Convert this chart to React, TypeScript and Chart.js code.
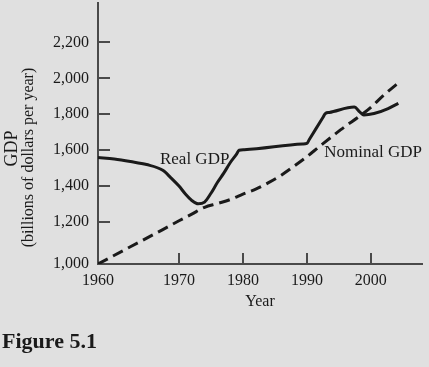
import React, { useEffect, useRef } from 'react';
import { Chart, registerables, LinearScale } from 'chart.js';

Chart.register(...registerables);

// ---------- data ----------
const xTicks = [1960, 1970, 1980, 1990, 2000];
const yTicks = [1000, 1200, 1400, 1600, 1800, 2000, 2200];

const realYears = [1960, 1962, 1964, 1966, 1968, 1969, 1970, 1971, 1972, 1973, 1974, 1975, 1976, 1977, 1978, 1979, 1979.4, 1980.2, 1989.3, 1990, 1990.4, 1992.5, 1992.9, 1993.5, 1997.4, 1998.3, 1998.9, 2000.5, 2002.7, 2004.3];
const realValues = [1560, 1551, 1537, 1520, 1488, 1446, 1400, 1356, 1320, 1301, 1311, 1360, 1420, 1472, 1530, 1578, 1600, 1603, 1635, 1638, 1661, 1782, 1805, 1810, 1840, 1812, 1796, 1804, 1832, 1861];

const nominalYears = [1960, 1964, 1968, 1970, 1972, 1974, 1976, 1978, 1980, 1982, 1984, 1986, 1988, 1990, 1992, 1994, 1996, 1998, 2000, 2002, 2004.4];
const nominalValues = [1000, 1082, 1164, 1207, 1244, 1282, 1303, 1325, 1355, 1383, 1419, 1461, 1511, 1564, 1622, 1678, 1733, 1783, 1839, 1906, 1978];

const seriesNames = ['Real GDP', 'Nominal GDP'];
const seriesLabelYears = [1967.65, 1992.7];
const seriesLabelValues = [1550, 1588];

const xTitle = 'Year';
const yTitleLines = ['GDP', '(billions of dollars per year)'];
const figureCaption = 'Figure 5.1';

// ---------- styling ----------
const SERIF = "'Liberation Serif', 'Times New Roman', 'DejaVu Serif', serif";
const INK = '#1a1a1a';
const AXIS = '#4a4a4a';
const BG = '#e0e0e0';

// A linear scale whose first interval (min..breakAt) takes a fixed share of the axis,
// like the broken origin of the printed figure.
class BrokenLinearScale extends LinearScale {
  static id = 'brokenLinear';
  static defaults = {};
  toDecimal(value: number) {
    const o: any = this.options;
    const b = o.breakAt;
    const f = o.breakFrac;
    if (value <= b) return (f * (value - this.min)) / (b - this.min);
    return f + ((1 - f) * (value - b)) / (this.max - b);
  }
  getPixelForValue(value: any) {
    if (value === null || value === undefined || isNaN(value)) return NaN;
    return this.getPixelForDecimal(this.toDecimal(value));
  }
  getValueForPixel(pixel: number) {
    const o: any = this.options;
    const b = o.breakAt;
    const f = o.breakFrac;
    const d = this.getDecimalForPixel(pixel);
    if (d <= f) return this.min + (d / f) * (b - this.min);
    return b + ((d - f) / (1 - f)) * (this.max - b);
  }
}
Chart.register(BrokenLinearScale as any);

const textPlugin = {
  id: 'figureTexts',
  afterDraw(chart: any) {
    const { ctx, chartArea, scales } = chart;
    const xs = scales.x;
    const ys = scales.y;
    ctx.save();
    ctx.fillStyle = INK;

    // series labels
    ctx.font = `17px ${SERIF}`;
    ctx.textAlign = 'left';
    ctx.textBaseline = 'middle';
    seriesNames.forEach((t, i) => {
      ctx.fillText(t, xs.getPixelForValue(seriesLabelYears[i]), ys.getPixelForValue(seriesLabelValues[i]));
    });

    // x title
    ctx.font = `16px ${SERIF}`;
    ctx.textAlign = 'center';
    ctx.fillText(xTitle, (chartArea.left + chartArea.right) / 2, chartArea.bottom + 38);

    // y title (two rotated lines)
    ctx.save();
    ctx.translate(12.5, 148.5);
    ctx.rotate(-Math.PI / 2);
    ctx.font = `18px ${SERIF}`;
    ctx.fillText(yTitleLines[0], 0, 0);
    ctx.restore();
    ctx.save();
    ctx.translate(29, 157.5);
    ctx.rotate(-Math.PI / 2);
    ctx.font = `16px ${SERIF}`;
    ctx.fillText(yTitleLines[1], 0, 0);
    ctx.restore();

    // caption
    ctx.font = `bold 22px ${SERIF}`;
    ctx.textAlign = 'left';
    ctx.textBaseline = 'alphabetic';
    ctx.fillText(figureCaption, 2, 348);
    ctx.restore();
  },
};

export default function App() {
  const ref = useRef<HTMLCanvasElement | null>(null);

  useEffect(() => {
    const canvas = ref.current;
    if (!canvas) return;
    const tickFont = { family: SERIF, size: 16 };
    const chart = new Chart(canvas, {
      type: 'line',
      data: {
        datasets: [
          {
            label: seriesNames[0],
            data: realYears.map((x, i) => ({ x, y: realValues[i] })),
            borderColor: INK,
            borderWidth: 3,
            pointRadius: 0,
            fill: false,
            cubicInterpolationMode: 'monotone',
          },
          {
            label: seriesNames[1],
            data: nominalYears.map((x, i) => ({ x, y: nominalValues[i] })),
            borderColor: INK,
            borderWidth: 3,
            borderDash: [11, 6],
            pointRadius: 0,
            fill: false,
            cubicInterpolationMode: 'monotone',
          },
        ],
      },
      options: {
        animation: false,
        responsive: true,
        maintainAspectRatio: false,
        events: [],
        layout: { padding: { left: 0, right: 7, top: 3, bottom: 0 } },
        plugins: {
          legend: { display: false },
          tooltip: { enabled: false },
          title: { display: false },
        },
        scales: {
          x: {
            type: 'brokenLinear',
            position: 'bottom',
            min: 1960,
            max: 2008,
            breakAt: 1970,
            breakFrac: 0.25,
            afterBuildTicks: (s: any) => {
              s.ticks = xTicks.map((v) => ({ value: v }));
            },
            afterFit: (s: any) => {
              s.height = 103;
              s.paddingLeft = 0;
              s.paddingRight = 0;
            },
            grid: { drawOnChartArea: false, drawTicks: true, tickLength: -11, color: AXIS, lineWidth: 2 },
            border: { display: true, color: AXIS, width: 2 },
            ticks: {
              padding: 18,
              color: INK,
              font: tickFont,
              autoSkip: false,
              maxRotation: 0,
              callback: (v: any) => String(v),
            },
          },
          y: {
            type: 'brokenLinear',
            position: 'left',
            min: 1000,
            max: 2420,
            breakAt: 1200,
            breakFrac: 42 / 261,
            afterBuildTicks: (s: any) => {
              s.ticks = yTicks.map((v) => ({ value: v }));
            },
            afterFit: (s: any) => {
              s.width = 98;
              s.paddingTop = 0;
              s.paddingBottom = 0;
            },
            grid: { drawOnChartArea: false, drawTicks: true, tickLength: -12, color: AXIS, lineWidth: 2 },
            border: { display: true, color: AXIS, width: 2 },
            ticks: {
              padding: 21,
              color: INK,
              font: tickFont,
              autoSkip: false,
              callback: (v: any) => Number(v).toLocaleString('en-US'),
            },
          },
        },
      } as any,
      plugins: [textPlugin],
    });
    return () => chart.destroy();
  }, []);

  return (
    <div style={{ position: 'fixed', left: 0, top: 0, width: 429, height: 367, background: BG }}>
      <canvas ref={ref} />
    </div>
  );
}
